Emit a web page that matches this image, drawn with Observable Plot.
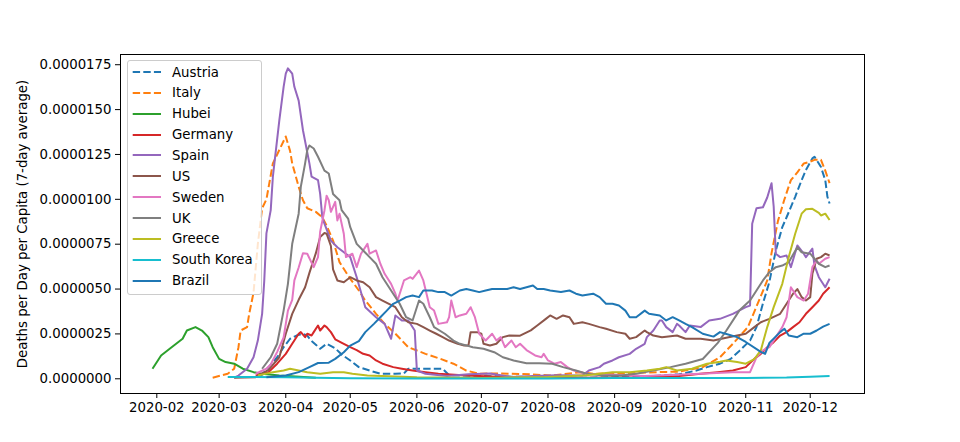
<!DOCTYPE html>
<html><head><meta charset="utf-8">
<script src="https://cdn.jsdelivr.net/npm/d3@7"></script>
<script src="https://cdn.jsdelivr.net/npm/@observablehq/plot@0.6"></script>
<style>
html,body{margin:0;padding:0;background:#fff;}
#wrap{position:relative;width:960px;height:442px;font-family:"DejaVu Sans",sans-serif;}
#legend{position:absolute;left:127px;top:60px;width:135px;height:235px;border:1px solid #cccccc;border-radius:3px;background:rgba(255,255,255,0.8);box-sizing:border-box;}
.row{position:absolute;left:0;height:20px;display:flex;align-items:center;font-size:13.3px;color:#000;white-space:nowrap;}
.row svg{display:block;}
</style></head>
<body><div id="wrap"></div>
<script>
// Values: deaths per day per million people (7-day average)
const austria = [["2020-03-20",0.1],["2020-03-24",0.65],["2020-03-28",1.2],["2020-03-31",1.76],["2020-04-03",2.23],["2020-04-06",2.41],["2020-04-09",2.51],["2020-04-11",2.4],["2020-04-13",2.1],["2020-04-15",1.9],["2020-04-17",1.67],["2020-04-20",1.95],["2020-04-24",1.7],["2020-04-27",1.35],["2020-05-01",1.02],["2020-05-05",0.65],["2020-05-10",0.46],["2020-05-15",0.28],["2020-05-22",0.28],["2020-05-26",0.3],["2020-05-28",0.56],["2020-06-13",0.56],["2020-06-16",0.2],["2020-07-15",0.12],["2020-08-15",0.05],["2020-09-15",0.12],["2020-10-01",0.25],["2020-10-09",0.46],["2020-10-14",0.65],["2020-10-20",0.84],["2020-10-25",1.11],["2020-10-29",1.55],["2020-11-03",2.13],["2020-11-06",2.88],["2020-11-09",4.2],["2020-11-12",5.4],["2020-11-15",7.15],["2020-11-18",8.45],["2020-11-20",9.0],["2020-11-24",10.14],["2020-11-27",11.07],["2020-11-29",11.63],["2020-12-02",12.28],["2020-12-03",12.37],["2020-12-05",12.0],["2020-12-06",11.8],["2020-12-08",11.07],["2020-12-09",10.14],["2020-12-10",9.77]];
const italy = [["2020-02-27",0.06],["2020-03-05",0.28],["2020-03-08",0.56],["2020-03-10",1.76],["2020-03-11",2.69],["2020-03-14",2.88],["2020-03-15",3.62],["2020-03-17",4.8],["2020-03-19",7.5],["2020-03-21",9.5],["2020-03-23",10.0],["2020-03-26",12.0],["2020-04-01",13.5],["2020-04-03",12.7],["2020-04-04",12.0],["2020-04-07",10.7],["2020-04-09",9.95],["2020-04-11",9.5],["2020-04-15",9.3],["2020-04-18",9.0],["2020-04-20",8.54],["2020-04-23",7.7],["2020-04-26",6.5],["2020-05-01",5.57],["2020-05-05",4.92],["2020-05-08",4.36],["2020-05-13",3.62],["2020-05-17",3.06],["2020-05-22",2.51],["2020-05-28",1.76],["2020-06-05",1.39],["2020-06-12",1.11],["2020-06-18",0.84],["2020-06-24",0.46],["2020-06-30",0.28],["2020-07-10",0.3],["2020-07-25",0.24],["2020-08-03",0.18],["2020-08-16",0.37],["2020-08-22",0.28],["2020-09-15",0.35],["2020-10-01",0.4],["2020-10-12",0.65],["2020-10-20",1.2],["2020-10-26",1.95],["2020-11-02",2.88],["2020-11-08",4.6],["2020-11-11",5.48],["2020-11-13",7.0],["2020-11-16",8.8],["2020-11-19",10.0],["2020-11-22",11.07],["2020-11-25",11.5],["2020-11-28",12.0],["2020-12-01",12.1],["2020-12-03",12.2],["2020-12-06",12.2],["2020-12-08",11.6],["2020-12-10",10.9]];
const hubei = [["2020-01-30",0.56],["2020-02-03",1.3],["2020-02-07",1.67],["2020-02-10",1.95],["2020-02-13",2.23],["2020-02-15",2.69],["2020-02-19",2.88],["2020-02-22",2.69],["2020-02-25",2.32],["2020-02-27",1.76],["2020-03-01",1.11],["2020-03-04",0.93],["2020-03-08",0.84],["2020-03-12",0.56],["2020-03-17",0.37],["2020-03-21",0.28],["2020-03-29",0.18],["2020-04-15",0.06]];
const germany = [["2020-03-18",0.18],["2020-03-24",0.37],["2020-03-28",0.84],["2020-04-01",1.39],["2020-04-04",1.95],["2020-04-07",2.51],["2020-04-08",2.6],["2020-04-10",2.32],["2020-04-11",2.51],["2020-04-13",2.41],["2020-04-14",2.6],["2020-04-16",2.97],["2020-04-17",2.69],["2020-04-19",2.97],["2020-04-20",2.88],["2020-04-22",2.6],["2020-04-24",2.2],["2020-04-28",1.95],["2020-05-01",1.76],["2020-05-04",1.6],["2020-05-07",1.39],["2020-05-10",1.3],["2020-05-13",1.02],["2020-05-16",0.84],["2020-05-21",0.65],["2020-05-25",0.56],["2020-05-30",0.46],["2020-06-05",0.37],["2020-06-11",0.28],["2020-06-24",0.18],["2020-07-15",0.08],["2020-08-15",0.06],["2020-09-15",0.08],["2020-10-01",0.15],["2020-10-11",0.28],["2020-10-19",0.37],["2020-10-26",0.46],["2020-11-01",0.65],["2020-11-05",1.11],["2020-11-08",1.39],["2020-11-11",1.76],["2020-11-14",2.04],["2020-11-17",2.41],["2020-11-20",2.6],["2020-11-23",2.88],["2020-11-26",3.15],["2020-11-29",3.62],["2020-12-02",3.99],["2020-12-05",4.36],["2020-12-07",4.74],["2020-12-10",5.1]];
const spain = [["2020-03-08",0.06],["2020-03-10",0.18],["2020-03-14",0.56],["2020-03-17",1.2],["2020-03-19",2.13],["2020-03-21",3.62],["2020-03-22",5.48],["2020-03-23",8.1],["2020-03-25",9.4],["2020-03-26",11.26],["2020-03-29",14.4],["2020-03-31",16.27],["2020-04-01",17.0],["2020-04-02",17.3],["2020-04-04",17.0],["2020-04-05",16.27],["2020-04-07",15.5],["2020-04-09",13.85],["2020-04-12",12.0],["2020-04-13",11.26],["2020-04-16",11.07],["2020-04-17",10.3],["2020-04-18",9.0],["2020-04-19",8.64],["2020-04-22",7.7],["2020-04-25",7.33],["2020-05-01",6.78],["2020-05-04",5.66],["2020-05-08",3.99],["2020-05-13",3.43],["2020-05-17",3.06],["2020-05-20",2.23],["2020-05-22",3.53],["2020-05-25",3.25],["2020-05-28",3.25],["2020-05-31",2.69],["2020-06-01",0.46],["2020-06-05",0.28],["2020-06-15",0.15],["2020-06-25",0.25],["2020-07-05",0.3],["2020-07-15",0.1],["2020-07-25",0.15],["2020-08-05",0.2],["2020-08-17",0.18],["2020-08-20",0.46],["2020-08-25",0.65],["2020-08-27",0.84],["2020-08-31",1.02],["2020-09-03",1.2],["2020-09-08",1.39],["2020-09-11",1.67],["2020-09-15",1.95],["2020-09-16",2.32],["2020-09-19",2.69],["2020-09-22",3.25],["2020-09-23",3.25],["2020-09-25",2.88],["2020-09-28",2.6],["2020-09-30",3.06],["2020-10-01",2.97],["2020-10-04",2.6],["2020-10-06",2.97],["2020-10-11",2.88],["2020-10-15",3.25],["2020-10-20",3.34],["2020-10-26",3.62],["2020-11-01",3.99],["2020-11-03",4.08],["2020-11-04",8.64],["2020-11-06",9.5],["2020-11-09",9.56],["2020-11-11",10.1],["2020-11-13",10.9],["2020-11-14",9.6],["2020-11-15",6.97],["2020-11-17",6.78],["2020-11-20",6.87],["2020-11-22",6.22],["2020-11-25",7.43],["2020-11-28",6.97],["2020-11-29",6.78],["2020-12-02",7.25],["2020-12-03",6.31],["2020-12-05",5.66],["2020-12-08",5.1],["2020-12-10",5.57]];
const us = [["2020-03-08",0.06],["2020-03-18",0.09],["2020-03-24",0.5],["2020-03-29",1.2],["2020-04-01",2.51],["2020-04-04",3.62],["2020-04-07",4.4],["2020-04-10",5.1],["2020-04-12",5.9],["2020-04-15",7.0],["2020-04-17",7.9],["2020-04-19",8.12],["2020-04-20",8.08],["2020-04-22",7.4],["2020-04-23",6.1],["2020-04-25",5.48],["2020-04-28",5.38],["2020-05-01",5.66],["2020-05-04",5.48],["2020-05-07",5.38],["2020-05-10",5.1],["2020-05-13",4.55],["2020-05-16",4.36],["2020-05-19",4.18],["2020-05-22",3.99],["2020-05-25",3.43],["2020-05-28",3.15],["2020-06-01",3.06],["2020-06-04",2.88],["2020-06-07",2.69],["2020-06-10",2.51],["2020-06-13",2.32],["2020-06-16",2.13],["2020-06-20",1.95],["2020-06-23",1.86],["2020-06-25",1.86],["2020-06-26",2.6],["2020-06-29",2.6],["2020-07-01",2.51],["2020-07-02",1.95],["2020-07-05",1.86],["2020-07-08",1.95],["2020-07-11",2.32],["2020-07-14",2.41],["2020-07-19",2.4],["2020-07-24",2.7],["2020-07-27",2.97],["2020-07-31",3.34],["2020-08-02",3.53],["2020-08-05",3.34],["2020-08-08",3.53],["2020-08-11",3.43],["2020-08-13",3.06],["2020-08-17",3.15],["2020-08-20",3.06],["2020-08-25",2.88],["2020-08-28",2.79],["2020-09-02",2.6],["2020-09-06",2.51],["2020-09-08",2.23],["2020-09-11",2.32],["2020-09-15",2.69],["2020-09-16",2.6],["2020-09-19",2.41],["2020-09-23",2.32],["2020-09-30",2.41],["2020-10-04",2.23],["2020-10-11",2.23],["2020-10-17",2.13],["2020-10-24",2.32],["2020-11-01",2.51],["2020-11-05",2.88],["2020-11-08",3.15],["2020-11-12",3.34],["2020-11-17",3.62],["2020-11-20",4.18],["2020-11-23",4.74],["2020-11-25",5.0],["2020-11-27",4.55],["2020-11-29",4.36],["2020-12-01",4.55],["2020-12-02",5.85],["2020-12-04",6.69],["2020-12-06",6.78],["2020-12-08",6.97],["2020-12-10",6.87]];
const sweden = [["2020-03-18",0.28],["2020-03-23",0.56],["2020-03-25",0.8],["2020-03-28",1.5],["2020-03-31",2.3],["2020-04-02",3.8],["2020-04-04",4.4],["2020-04-05",5.48],["2020-04-07",6.2],["2020-04-09",7.0],["2020-04-11",6.97],["2020-04-14",6.22],["2020-04-16",6.78],["2020-04-17",8.2],["2020-04-19",9.38],["2020-04-20",10.2],["2020-04-21",9.95],["2020-04-22",9.3],["2020-04-24",9.86],["2020-04-25",8.82],["2020-04-26",9.2],["2020-04-28",8.08],["2020-04-29",6.78],["2020-05-02",6.97],["2020-05-04",6.22],["2020-05-06",6.97],["2020-05-09",7.52],["2020-05-10",6.97],["2020-05-13",7.15],["2020-05-15",6.41],["2020-05-17",5.85],["2020-05-20",5.29],["2020-05-22",4.74],["2020-05-23",4.36],["2020-05-25",5.1],["2020-05-26",5.48],["2020-05-29",5.66],["2020-05-30",5.57],["2020-06-02",6.03],["2020-06-04",5.48],["2020-06-07",3.99],["2020-06-09",3.8],["2020-06-11",3.06],["2020-06-15",3.15],["2020-06-16",3.43],["2020-06-17",4.36],["2020-06-19",3.43],["2020-06-21",3.53],["2020-06-24",3.62],["2020-06-26",3.99],["2020-06-28",3.43],["2020-06-30",2.51],["2020-07-03",2.13],["2020-07-06",2.51],["2020-07-08",2.13],["2020-07-10",2.32],["2020-07-12",1.76],["2020-07-15",2.13],["2020-07-17",1.76],["2020-07-19",1.95],["2020-07-22",1.6],["2020-07-26",1.3],["2020-07-29",1.2],["2020-07-30",1.39],["2020-08-01",1.02],["2020-08-04",0.84],["2020-08-07",0.93],["2020-08-10",0.65],["2020-08-13",0.46],["2020-08-19",0.28],["2020-09-15",0.15],["2020-10-11",0.28],["2020-10-26",0.37],["2020-11-03",0.37],["2020-11-06",1.2],["2020-11-09",1.58],["2020-11-12",1.76],["2020-11-15",2.32],["2020-11-18",2.88],["2020-11-20",3.43],["2020-11-22",5.1],["2020-11-23",4.92],["2020-11-25",4.55],["2020-11-28",4.36],["2020-11-30",4.74],["2020-12-02",6.22],["2020-12-04",6.59],["2020-12-05",6.41],["2020-12-08",6.69],["2020-12-10",6.78]];
const uk = [["2020-03-21",0.56],["2020-03-25",1.2],["2020-03-28",1.95],["2020-03-31",3.8],["2020-04-02",5.29],["2020-04-04",7.52],["2020-04-07",9.2],["2020-04-08",10.7],["2020-04-10",12.0],["2020-04-11",12.74],["2020-04-12",13.0],["2020-04-14",12.83],["2020-04-16",12.37],["2020-04-19",11.6],["2020-04-21",11.44],["2020-04-23",10.3],["2020-04-26",9.95],["2020-04-27",9.4],["2020-04-30",8.93],["2020-05-01",8.45],["2020-05-04",7.52],["2020-05-07",7.15],["2020-05-10",6.78],["2020-05-13",6.41],["2020-05-16",5.66],["2020-05-20",4.92],["2020-05-24",4.18],["2020-05-27",3.43],["2020-05-30",3.25],["2020-06-02",4.36],["2020-06-04",4.18],["2020-06-07",3.43],["2020-06-09",2.88],["2020-06-14",2.51],["2020-06-18",2.13],["2020-06-21",1.95],["2020-06-24",1.86],["2020-06-27",1.76],["2020-07-02",1.67],["2020-07-07",1.48],["2020-07-11",1.2],["2020-07-16",1.02],["2020-07-22",0.87],["2020-07-28",0.87],["2020-08-03",0.84],["2020-08-08",0.65],["2020-08-14",0.46],["2020-08-19",0.28],["2020-08-27",0.18],["2020-09-04",0.18],["2020-09-11",0.28],["2020-09-19",0.46],["2020-09-27",0.65],["2020-10-04",0.84],["2020-10-12",1.1],["2020-10-19",2.0],["2020-10-23",2.69],["2020-10-29",3.8],["2020-11-03",4.36],["2020-11-06",4.92],["2020-11-09",5.48],["2020-11-12",5.94],["2020-11-15",6.22],["2020-11-18",6.31],["2020-11-21",6.5],["2020-11-25",7.33],["2020-11-27",7.05],["2020-12-01",6.97],["2020-12-03",6.69],["2020-12-05",6.41],["2020-12-08",6.22],["2020-12-10",6.31]];
const greece = [["2020-03-19",0.18],["2020-03-26",0.37],["2020-03-31",0.46],["2020-04-03",0.56],["2020-04-07",0.46],["2020-04-11",0.37],["2020-04-17",0.28],["2020-04-23",0.37],["2020-04-28",0.37],["2020-05-02",0.28],["2020-05-09",0.18],["2020-06-01",0.08],["2020-07-01",0.05],["2020-08-01",0.1],["2020-08-19",0.2],["2020-08-31",0.37],["2020-09-08",0.37],["2020-09-16",0.46],["2020-09-22",0.56],["2020-09-25",0.65],["2020-09-30",0.46],["2020-10-07",0.56],["2020-10-14",0.84],["2020-10-20",0.95],["2020-10-23",1.02],["2020-10-28",0.93],["2020-11-01",0.84],["2020-11-05",1.1],["2020-11-08",1.58],["2020-11-11",2.88],["2020-11-14",3.99],["2020-11-18",5.29],["2020-11-21",6.78],["2020-11-24",8.08],["2020-11-27",9.2],["2020-11-29",9.45],["2020-12-02",9.47],["2020-12-05",9.25],["2020-12-06",9.1],["2020-12-08",9.2],["2020-12-10",8.85]];
const southKorea = [["2020-03-05",0.1],["2020-03-15",0.1],["2020-04-01",0.09],["2020-04-15",0.06],["2020-05-01",0.03],["2020-06-01",0.01],["2020-07-01",0.01],["2020-08-01",0.01],["2020-09-01",0.05],["2020-10-01",0.05],["2020-11-01",0.04],["2020-11-20",0.07],["2020-12-01",0.12],["2020-12-10",0.16]];
const brazil = [["2020-03-23",0.09],["2020-04-01",0.18],["2020-04-07",0.37],["2020-04-12",0.65],["2020-04-16",0.88],["2020-04-21",0.9],["2020-04-24",1.11],["2020-04-28",1.48],["2020-05-01",1.85],["2020-05-05",2.1],["2020-05-08",2.6],["2020-05-12",3.06],["2020-05-15",3.43],["2020-05-18",3.8],["2020-05-21",4.18],["2020-05-24",4.36],["2020-05-27",4.55],["2020-05-30",4.64],["2020-06-02",4.55],["2020-06-04",4.92],["2020-06-08",4.92],["2020-06-11",4.83],["2020-06-14",4.83],["2020-06-17",4.64],["2020-06-21",4.92],["2020-06-24",5.0],["2020-06-27",4.92],["2020-06-30",4.83],["2020-07-03",4.92],["2020-07-06",5.0],["2020-07-13",5.0],["2020-07-16",5.1],["2020-07-19",5.0],["2020-07-22",5.1],["2020-07-25",5.2],["2020-07-27",5.0],["2020-07-30",5.0],["2020-08-02",4.92],["2020-08-07",4.83],["2020-08-11",4.92],["2020-08-14",4.74],["2020-08-17",4.64],["2020-08-22",4.74],["2020-08-25",4.55],["2020-08-28",4.18],["2020-08-31",4.18],["2020-09-03",4.08],["2020-09-06",3.8],["2020-09-08",3.43],["2020-09-11",3.43],["2020-09-15",3.8],["2020-09-17",3.62],["2020-09-22",3.53],["2020-09-25",3.25],["2020-09-28",3.43],["2020-10-01",3.25],["2020-10-04",3.06],["2020-10-07",2.88],["2020-10-12",2.51],["2020-10-17",2.35],["2020-10-20",2.6],["2020-10-23",2.5],["2020-10-28",2.32],["2020-11-01",2.05],["2020-11-08",1.5],["2020-11-10",1.39],["2020-11-12",2.0],["2020-11-17",2.6],["2020-11-19",2.79],["2020-11-21",2.41],["2020-11-25",2.32],["2020-11-28",2.51],["2020-12-01",2.51],["2020-12-04",2.69],["2020-12-07",2.91],["2020-12-10",3.06]];

const countries = ["Austria","Italy","Hubei","Germany","Spain","US","Sweden","UK","Greece","South Korea","Brazil"];
const seriesValues = [austria, italy, hubei, germany, spain, us, sweden, uk, greece, southKorea, brazil];
const colors = ["#1f77b4","#ff7f0e","#2ca02c","#d62728","#9467bd","#8c564b","#e377c2","#7f7f7f","#bcbd22","#17becf","#1f77b4"];
const dashed = [true, true, false, false, false, false, false, false, false, false, false];
const xTicks = ["2020-02-01","2020-03-01","2020-04-01","2020-05-01","2020-06-01","2020-07-01","2020-08-01","2020-09-01","2020-10-01","2020-11-01","2020-12-01"];
const yTicks = [0, 0.0000025, 0.000005, 0.0000075, 0.00001, 0.0000125, 0.000015, 0.0000175];
const yLabel = "Deaths per Day per Capita (7-day average)";
const PER_MILLION = 1e6;

const DASH = "7.4,3.2";
const lineMarks = seriesValues.map((arr, i) => Plot.line(arr, {
  x: d => new Date(d[0]),
  y: d => d[1] / PER_MILLION,
  stroke: colors[i],
  strokeWidth: 2,
  strokeDasharray: dashed[i] ? DASH : null,
  strokeLinejoin: "round",
  strokeLinecap: "butt"
}));

const chart = Plot.plot({
  width: 960, height: 442,
  marginLeft: 120, marginRight: 96, marginTop: 54, marginBottom: 49,
  style: {fontFamily: "'DejaVu Sans', sans-serif", fontSize: "13.3px", color: "#000", background: "#fff"},
  x: {type: "utc", domain: [new Date("2020-01-15T02:40:00Z"), new Date("2020-12-26T06:00:00Z")]},
  y: {domain: [-0.82e-6, 18.07e-6]},
  marks: [
    ...lineMarks,
    Plot.frame({stroke: "#000", strokeWidth: 1}),
    Plot.axisX({ticks: xTicks.map(d => new Date(d)), tickFormat: d3.utcFormat("%Y-%m"), tickSize: 5, tickPadding: 4, label: null, fontSize: 13.3}),
    Plot.axisY({ticks: yTicks, tickFormat: d3.format(".7f"), tickSize: 5, tickPadding: 4, label: null, fontSize: 13.3}),
    Plot.text([yLabel], {text: d => d, frameAnchor: "left", textAnchor: "middle", lineAnchor: "middle", dx: -98, rotate: -90, fontSize: 13.3, fill: "#000"})
  ]
});

const wrap = document.getElementById("wrap");
wrap.appendChild(chart);

const legend = document.createElement("div");
legend.id = "legend";
countries.forEach((name, i) => {
  const row = document.createElement("div");
  row.className = "row";
  row.style.top = (1 + i * 20.87) + "px";
  const ns = "http://www.w3.org/2000/svg";
  const svg = document.createElementNS(ns, "svg");
  svg.setAttribute("width", "44");
  svg.setAttribute("height", "20");
  const ln = document.createElementNS(ns, "line");
  ln.setAttribute("x1", "4.7"); ln.setAttribute("x2", "33");
  ln.setAttribute("y1", "10"); ln.setAttribute("y2", "10");
  ln.setAttribute("stroke", colors[i]);
  ln.setAttribute("stroke-width", "2");
  if (dashed[i]) ln.setAttribute("stroke-dasharray", DASH);
  svg.appendChild(ln);
  row.appendChild(svg);
  const t = document.createElement("span");
  t.textContent = name;
  row.appendChild(t);
  legend.appendChild(row);
});
wrap.appendChild(legend);
</script></body></html>
